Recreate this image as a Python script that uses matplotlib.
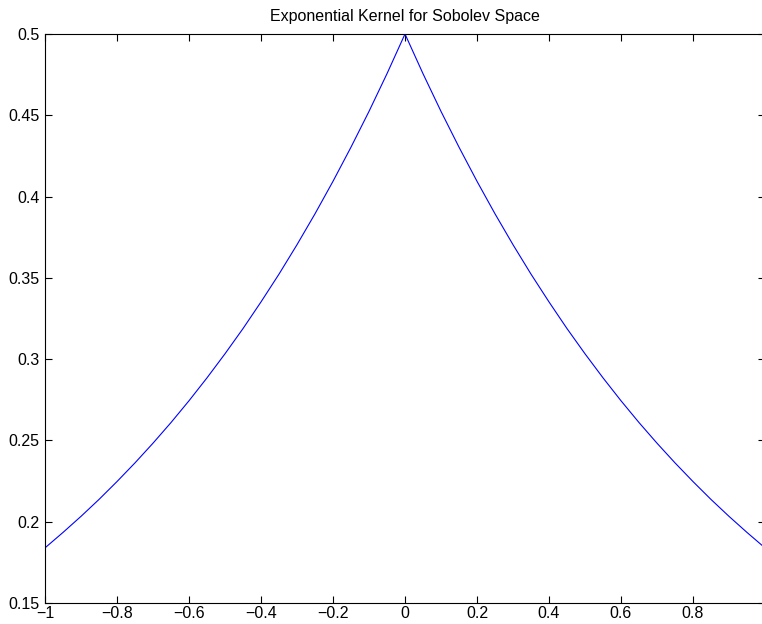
import matplotlib.pyplot as plt

plt.rcParams['font.family'] = ['Liberation Sans', 'DejaVu Sans']

# Kernel samples, x from -1 to 1
xs = [-1.00, -0.95, -0.90, -0.85, -0.80, -0.75, -0.70, -0.65, -0.60, -0.55,
      -0.50, -0.45, -0.40, -0.35, -0.30, -0.25, -0.20, -0.15, -0.10, -0.05,
      0.00, 0.05, 0.10, 0.15, 0.20, 0.25, 0.30, 0.35, 0.40, 0.45,
      0.50, 0.55, 0.60, 0.65, 0.70, 0.75, 0.80, 0.85, 0.90, 0.95, 1.00]
ys = [0.1839, 0.1934, 0.2033, 0.2137, 0.2247, 0.2362, 0.2483, 0.2610, 0.2744, 0.2885,
      0.3033, 0.3188, 0.3352, 0.3523, 0.3704, 0.3894, 0.4094, 0.4304, 0.4524, 0.4756,
      0.5000, 0.4756, 0.4524, 0.4304, 0.4094, 0.3894, 0.3704, 0.3523, 0.3352, 0.3188,
      0.3033, 0.2885, 0.2744, 0.2610, 0.2483, 0.2362, 0.2247, 0.2137, 0.2033, 0.1934, 0.1839]

xticks = [-1, -0.8, -0.6, -0.4, -0.2, 0, 0.2, 0.4, 0.6, 0.8]
xlabels = ['\u22121', '\u22120.8', '\u22120.6', '\u22120.4', '\u22120.2', '0', '0.2', '0.4', '0.6', '0.8']
yticks = [0.15, 0.2, 0.25, 0.3, 0.35, 0.4, 0.45, 0.5]
ylabels = ['0.15', '0.2', '0.25', '0.3', '0.35', '0.4', '0.45', '0.5']

fig = plt.figure(figsize=(7.62, 6.24), dpi=100)
ax = fig.add_axes([45 / 762, 21 / 624, 720 / 762, 569 / 624])
ax.plot(xs, ys, color='blue', linewidth=0.8)
ax.set_xlim(-1, 1)
ax.set_ylim(0.15, 0.5)
ax.set_xticks(xticks)
ax.set_xticklabels(xlabels)
ax.set_yticks(yticks)
ax.set_yticklabels(ylabels)
ax.tick_params(direction='in', top=True, right=True, length=5, width=0.8,
               labelsize=11.5)
ax.tick_params(axis='x', pad=2)
ax.tick_params(axis='y', pad=4)
for s in ax.spines.values():
    s.set_linewidth(0.8)
ax.set_title('Exponential Kernel for Sobolev Space', fontsize=11.5, pad=9)

fig.savefig('out.png', dpi=100)
